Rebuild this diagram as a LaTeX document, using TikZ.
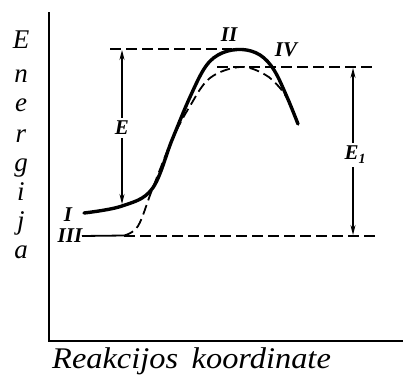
\documentclass[tikz,border=0pt]{standalone}
\usepackage{fontspec}
\setmainfont{Liberation Serif}
\usetikzlibrary{arrows.meta}
\begin{document}
\begin{tikzpicture}[x=1pt,y=-1pt,
  axisline/.style={line width=2.2pt},
  guide/.style={line width=1.3pt,dash pattern=on 11pt off 5pt},
  mainc/.style={line width=3.4pt,line cap=round},
  altc/.style={line width=1.8pt,dash pattern=on 10pt off 5pt},
  dimarrow/.style={line width=1.2pt,{Stealth[length=10pt,width=5pt]}-{Stealth[length=10pt,width=5pt]}},
  lbl/.style={font=\fontsize{21}{21}\selectfont\bfseries\itshape,inner sep=0pt},
  ylet/.style={font=\fontsize{27}{27}\selectfont\itshape,anchor=base,inner sep=0pt}]
\useasboundingbox (0,0) rectangle (403,375);
% axes
\coordinate (o) at (49,341);
\coordinate (ytop) at (49,12);
\coordinate (xend) at (403,341);
\draw[axisline] (ytop) -- (o) -- (xend);
% axis labels
\node[ylet] (l1) at (21,48) {E};
\node[ylet] (l2) at (21,82) {n};
\node[ylet] (l3) at (21,111) {e};
\node[ylet] (l4) at (21,142) {r};
\node[ylet] (l5) at (21,171) {g};
\node[ylet] (l6) at (21,200) {i};
\node[ylet] (l7) at (21,229) {j};
\node[ylet] (l8) at (21,258) {a};
\node[font=\fontsize{30}{30}\selectfont\itshape,anchor=base west,inner sep=0pt,xscale=1.08] (xl) at (52,368) {Reakcijos\, koordinate};
% guide lines
\coordinate (g1a) at (110,49);
\coordinate (g1b) at (232,49);
\coordinate (g2a) at (217,67);
\coordinate (g2b) at (372,67);
\coordinate (g3a) at (124,236);
\coordinate (g3b) at (380,236);
\draw[guide] (g1a) -- (g1b);
\draw[guide] (g2a) -- (g2b);
\draw[guide] (g3a) -- (g3b);
% dashed curve III -> IV
\draw[line width=1.8pt] (82,236) -- (124,235.5);
\draw[altc] plot[smooth,tension=0.6] coordinates {(124,235.5) (138,226) (152,190) (172,140) (190,106) (210,78) (240,67) (264,74) (280,88) (292,106)};
% solid curve I -> II
\draw[mainc] plot[smooth,tension=0.6] coordinates {(84,213) (122,206) (152,189) (172,140) (190,97) (206,66) (222,53) (242,49.5) (260,55) (274,70) (287,97) (298,124)};
% labels
\node[lbl] (lI) at (68,215) {I};
\node[lbl] (lIII) at (70,236) {III};
\node[lbl] (lII) at (229,35) {II};
\node[lbl] (lIV) at (286,50) {IV};
% dimension arrows
\coordinate (ea) at (122,50);
\coordinate (eb) at (122,204);
\draw[dimarrow] (ea) -- (eb);
\node[lbl,fill=white,inner sep=3pt] (E) at (122,128) {E};
\coordinate (e1a) at (353,68);
\coordinate (e1b) at (353,235);
\draw[dimarrow] (e1a) -- (e1b);
\node[lbl,fill=white,inner sep=3pt] (E1) at (355,155) {E\raisebox{-4pt}{\fontsize{14}{14}\selectfont 1}};
\end{tikzpicture}
\end{document}
